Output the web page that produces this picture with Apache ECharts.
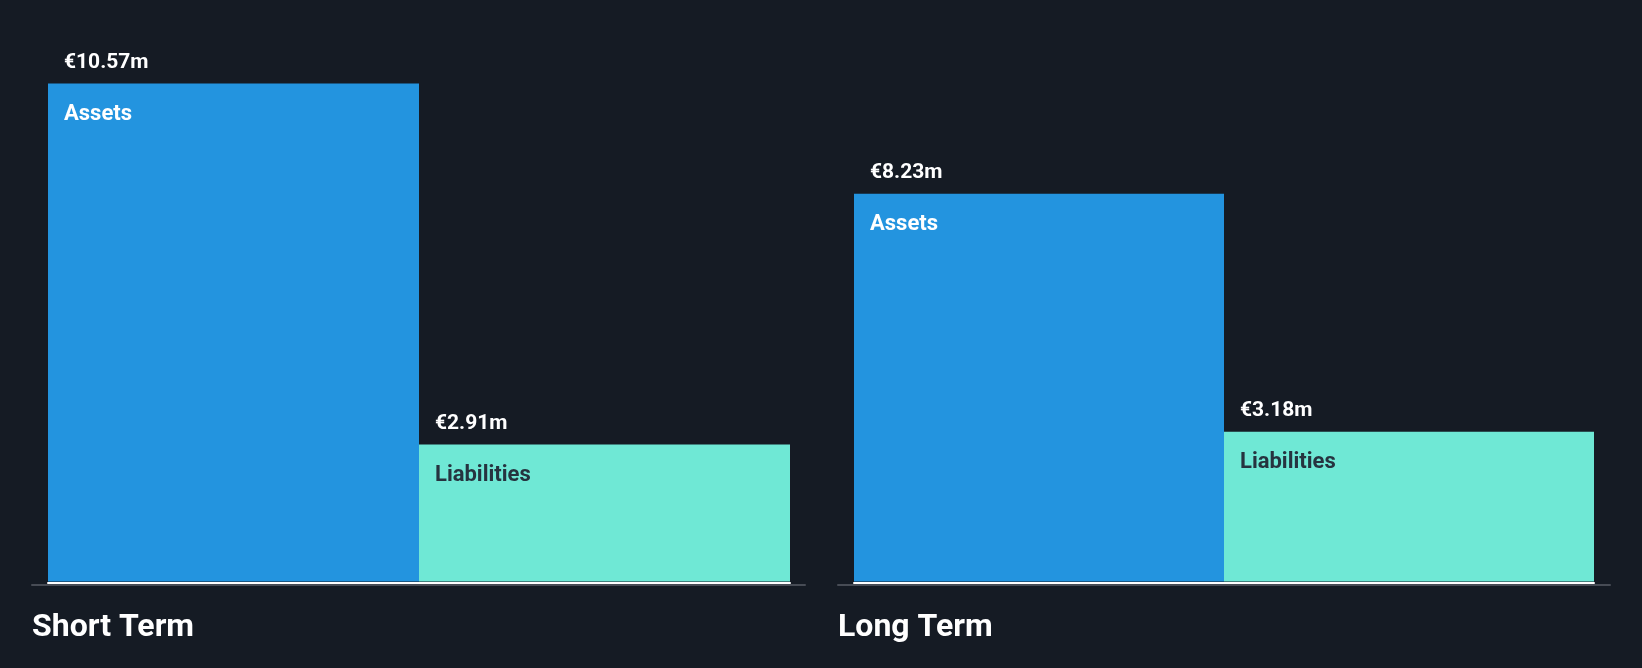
<!DOCTYPE html>
<html>
<head>
<meta charset="utf-8">
<title>Short and long term assets vs liabilities</title>
<script src="https://cdn.jsdelivr.net/npm/echarts@6/dist/echarts.min.js"></script>
<style>
	html,body{margin:0;padding:0;background:#151b24;}
	#chart{width:1642px;height:668px;}
</style>
</head>
<body>
<div id="chart"></div>
<script>
	// data (EUR millions)
	var periods = ['Short Term', 'Long Term'];
	var seriesNames = ['Assets', 'Liabilities'];
	var assets = [10.57, 8.23];
	var liabilities = [2.91, 3.18];

	var barColors = ['#2394df', '#6fe8d5'];
	var nameColors = ['#ffffff', '#26333f'];
	var yMax = Math.max.apply(null, assets.concat(liabilities));

	// panel layout: bar grid (narrow) and axis grid (wider grey base line)
	var panels = [
		{barLeft: 48, barWidth: 742, axisLeft: 32, axisWidth: 773},
		{barLeft: 854, barWidth: 740, axisLeft: 838, axisWidth: 772}
	];
	var gridTop = 83.5, gridBottom = 86.4;

	function fmt(v){ return '€' + v.toFixed(2) + 'm'; }

	var grid = [], xAxis = [], yAxis = [], series = [];
	periods.forEach(function(p, i){
		var pn = panels[i];
		grid.push({left: pn.barLeft, width: pn.barWidth, top: gridTop, bottom: gridBottom});
		grid.push({left: pn.axisLeft, width: pn.axisWidth, top: gridTop, bottom: gridBottom});

		// white base line under the bars
		xAxis.push({
			type: 'category', gridIndex: i * 2, data: [p],
			axisLine: {show: true, onZero: false, lineStyle: {color: '#ffffff', width: 2}},
			offset: 1,
			axisTick: {show: false}, axisLabel: {show: false}
		});
		// grey axis line and period name
		xAxis.push({
			type: 'category', gridIndex: i * 2 + 1, data: [p],
			axisLine: {show: true, onZero: false, lineStyle: {color: '#474c55', width: 2}},
			offset: 3.5,
			axisTick: {show: false}, axisLabel: {show: false},
			name: p, nameLocation: 'start', nameGap: 0,
			nameTextStyle: {
				color: '#ffffff', fontFamily: 'Roboto', fontWeight: 'bold', fontSize: 32,
				align: 'left', verticalAlign: 'top', lineHeight: 32, padding: [27, 0, 0, 0]
			}
		});
		yAxis.push({type: 'value', gridIndex: i * 2, min: 0, max: yMax, show: false, splitLine: {show: false}});
		yAxis.push({type: 'value', gridIndex: i * 2 + 1, min: 0, max: yMax, show: false, splitLine: {show: false}});

		[assets, liabilities].forEach(function(vals, k){
			series.push({
				type: 'bar',
				name: seriesNames[k],
				xAxisIndex: i * 2, yAxisIndex: i * 2,
				data: [vals[i]],
				barWidth: '50%', barGap: '0%', barCategoryGap: '0%',
				itemStyle: {color: barColors[k]},
				silent: true,
				label: {
					show: true,
					position: [16, -32],
					align: 'left', verticalAlign: 'top',
					formatter: function(prm){
						return '{v|' + fmt(prm.value) + '}\n{n|' + prm.seriesName + '}';
					},
					rich: {
						v: {color: '#ffffff', fontFamily: 'Roboto', fontWeight: 'bold', fontSize: 21, lineHeight: 22},
						n: {color: nameColors[k], fontFamily: 'Roboto', fontWeight: 'bold', fontSize: 22, lineHeight: 82}
					}
				}
			});
		});
	});

	var myChart = echarts.init(document.getElementById('chart'));
	myChart.setOption({
		backgroundColor: '#151b24',
		animation: false,
		grid: grid,
		xAxis: xAxis,
		yAxis: yAxis,
		series: series
	});
</script>
</body>
</html>
